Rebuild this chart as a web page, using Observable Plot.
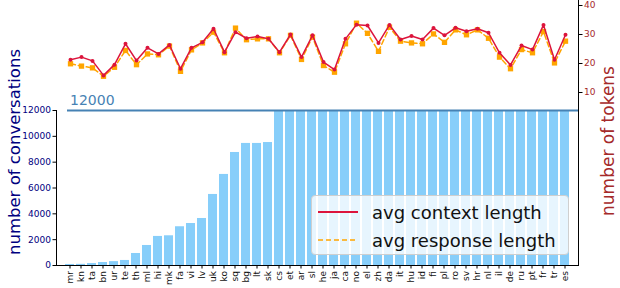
<!DOCTYPE html>
<html>
<head>
<meta charset="utf-8">
<script src="https://cdn.jsdelivr.net/npm/d3@7"></script>
<script src="https://cdn.jsdelivr.net/npm/@observablehq/plot@0.6"></script>
<style>
  html, body { margin: 0; padding: 0; background: #fff; }
  #wrap { position: relative; width: 620px; height: 288px; font-family: "DejaVu Sans", sans-serif; }
  #wrap > svg { position: absolute; left: 0; top: 0; }
  #legend { position: absolute; left: 311px; top: 195px; width: 258px; height: 60px;
    background: rgba(255,255,255,0.8); border: 1px solid #cfcfcf; border-radius: 4px; box-sizing: border-box; }
  .li { position: absolute; left: 6px; height: 20px; display: flex; align-items: center; font-size: 18px; color: #111; }
  .li svg { margin-right: 14px; }
</style>
</head>
<body>
<div id="wrap"></div>
<script>
const langs = ["mr","kn","ta","bn","ur","te","th","ml","hi","mk","fa","vi","lv","uk","ko","sq","bg","lt","sk","cs",
  "et","ar","sl","he","ja","ca","no","el","zh","da","it","hu","id","fi","pl","ro","sv","hr","nl","il","de","ru","pt","fr","tr","es"];
const conversations = [80,90,150,230,300,390,930,1550,2250,2300,3000,3250,3640,5500,7050,8750,9450,9450,9520,12000,
  12000,12000,12000,12000,12000,12000,12000,12000,12000,12000,12000,12000,12000,12000,12000,12000,12000,12000,12000,12000,
  12000,12000,12000,12000,12000,12000];
const contextLen = [21.3,22.2,20.9,15.9,19.6,26.8,21.0,25.4,23.3,26.4,18.2,25.4,27.3,32.0,23.9,30.8,28.7,29.3,28.5,23.9,
  30.0,22.2,29.7,20.5,17.9,28.5,33.4,33.1,27.1,33.3,28.3,29.5,28.3,32.2,29.7,32.3,31.1,32.0,30.6,23.7,
  19.5,26.2,24.8,33.3,21.3,29.9];
const responseLen = [19.9,19.1,18.5,15.6,18.7,24.5,19.6,23.3,23.0,26.0,17.3,24.7,27.1,30.8,23.7,32.2,28.2,28.5,28.5,23.7,
  29.7,21.4,29.1,19.3,17.0,26.8,33.9,30.4,24.2,32.5,27.7,27.1,26.8,30.2,27.3,31.6,29.9,31.6,28.7,22.2,
  18.2,24.8,23.7,31.0,20.2,27.7];
const capLabel = 12000;
const leftTicks = [0,2000,4000,6000,8000,10000,12000];
const rightTicks = [10,20,30,40];
const seriesNames = ["avg context length","avg response length"];
const axisTitles = ["number of conversations","number of tokens"];

const rows = langs.map((l,i) => ({lang:l, conv:conversations[i], ctx:contextLen[i], resp:responseLen[i]}));

const W = 620, H = 288;
const font = "DejaVu Sans, sans-serif";
const xScale = {domain: langs, paddingInner: 0.2, paddingOuter: 0.55};

const bars = Plot.plot({
  width: W, height: H,
  marginLeft: 56, marginRight: 42, marginTop: 110, marginBottom: 23,
  style: {fontFamily: font, fontSize: "9px", background: "transparent", overflow: "visible"},
  x: {...xScale, label: null},
  y: {domain: [0, 12000], label: null},
  marks: [
    Plot.barY(rows, {x: "lang", y: "conv", fill: "#87cefa"}),
    Plot.ruleY([capLabel], {stroke: "#4682b4", strokeWidth: 2, insetLeft: 11}),
    Plot.text([capLabel], {x: () => langs[0], y: d => d, text: d => String(d), textAnchor: "start",
      dy: -10, fontSize: 14, fill: "#4682b4"}),
    Plot.axisX({tickRotate: -90, tickSize: 3.5, tickPadding: 2, fontSize: 9, fill: "#111", label: null}),
    Plot.axisY({ticks: leftTicks, tickFormat: d => String(d), tickSize: 3.5, tickPadding: 2, fontSize: 9,
      fill: "#000080", label: null}),
    Plot.frame({anchor: "left", stroke: "#000"}),
    Plot.frame({anchor: "bottom", stroke: "#000"})
  ]
});

const lines = Plot.plot({
  width: W, height: H,
  marginLeft: 56, marginRight: 42, marginTop: 0, marginBottom: 23,
  style: {fontFamily: font, fontSize: "9px", background: "transparent", overflow: "visible"},
  x: {...xScale, axis: null},
  y: {domain: [10, 40], range: [92, 5], label: null},
  marks: [
    Plot.axisY({anchor: "right", ticks: rightTicks, tickSize: 3.5, tickPadding: 2, fontSize: 9, fill: "#a52a2a", label: null}),
    Plot.frame({anchor: "right", stroke: "#000"}),
    Plot.lineY(rows, {x: "lang", y: "resp", stroke: "#ffa500", strokeWidth: 1.5, strokeDasharray: "5,3"}),
    Plot.dot(rows, {x: "lang", y: "resp", symbol: "square", r: 3, fill: "#ffa500"}),
    Plot.lineY(rows, {x: "lang", y: "ctx", stroke: "#dc143c", strokeWidth: 1.5}),
    Plot.dot(rows, {x: "lang", y: "ctx", r: 2, fill: "#dc143c"}),
    Plot.text([axisTitles[0]], {frameAnchor: "left", textAnchor: "middle", rotate: -90, dx: -42, dy: 19,
      fontSize: 16.5, fill: "#000080"}),
    Plot.text([axisTitles[1]], {frameAnchor: "right", textAnchor: "middle", rotate: -90, dx: 30, dy: 8,
      fontSize: 17, fill: "#a52a2a"})
  ]
});

const wrap = document.getElementById("wrap");
wrap.appendChild(bars);
wrap.appendChild(lines);

const legend = document.createElement("div");
legend.id = "legend";
legend.innerHTML = `
  <div class="li" style="top:6px"><svg width="40" height="4"><line x1="0" y1="2" x2="40" y2="2" stroke="#dc143c" stroke-width="2"/></svg><span>${seriesNames[0]}</span></div>
  <div class="li" style="top:34px"><svg width="40" height="4"><line x1="0" y1="2" x2="40" y2="2" stroke="#ffa500" stroke-width="1.5" stroke-dasharray="5,3"/></svg><span>${seriesNames[1]}</span></div>`;
wrap.appendChild(legend);
</script>
</body>
</html>
